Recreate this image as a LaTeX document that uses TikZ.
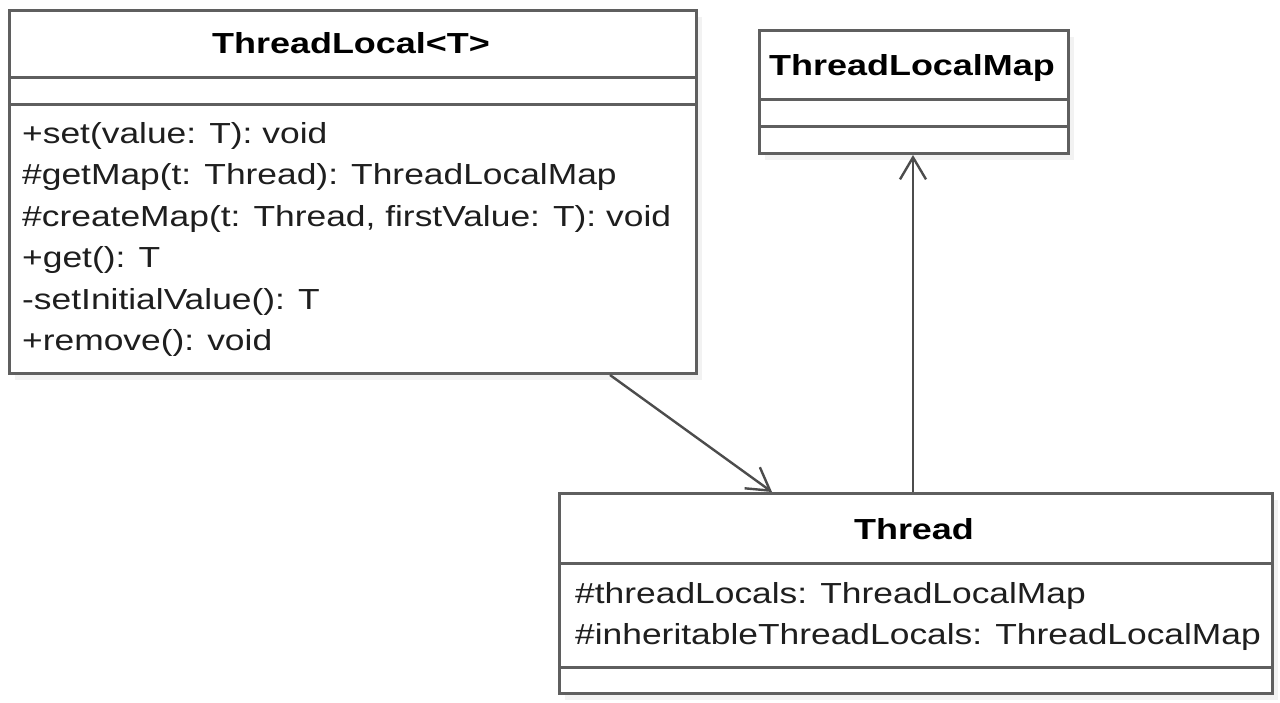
\documentclass[tikz,border=0pt]{standalone}
\usepackage{fontspec}
\setmainfont{Liberation Sans}
\newfontfamily\umlfont[FakeStretch=1.22]{Liberation Sans}
\newfontfamily\umlbold[FakeStretch=1.24]{Liberation Sans}
\usetikzlibrary{arrows.meta,shadows}
\definecolor{linegray}{RGB}{95,95,95}
\definecolor{txtcol}{RGB}{30,30,30}
\begin{document}
\begin{tikzpicture}[x=1pt,y=-1pt,
  umlbox/.style={draw=linegray, line width=3pt, fill=white, inner sep=0pt, anchor=north west,
    drop shadow={opacity=0.10, shadow xshift=5pt, shadow yshift=-6pt}},
  sepline/.style={draw=linegray, line width=3pt},
  txt/.style={anchor=base west, inner sep=0pt, text=txtcol, font=\umlfont\fontsize{29}{34}\selectfont},
  ttl/.style={anchor=base, inner sep=0pt, text=black, font=\umlbold\bfseries\fontsize{29}{34}\selectfont},
  assoc/.style={draw=linegray!80!black, line width=2.4pt, -{Straight Barb[length=22pt,width=26pt,line width=2.4pt]}}]
\useasboundingbox (0,0) rectangle (1280,702);
\fill[white] (0,0) rectangle (1280,702);

% ThreadLocal<T>
\node[umlbox, minimum width=687pt, minimum height=363pt] (tl) at (8,9) {};
\draw[sepline] (tl.west |- 0,77) -- (tl.east |- 0,77);
\draw[sepline] (tl.west |- 0,104) -- (tl.east |- 0,104);
\node[ttl] (tlname) at (351,53) {ThreadLocal<T>};
\node[txt] (m1) at (22,143) {+set(value: T): void};
\node[txt] (m2) at (22,184.5) {\#getMap(t: Thread): ThreadLocalMap};
\node[txt] (m3) at (22,226) {\#createMap(t: Thread, firstValue: T): void};
\node[txt] (m4) at (22,267.5) {+get(): T};
\node[txt] (m5) at (22,309) {-setInitialValue(): T};
\node[txt] (m6) at (22,350.5) {+remove(): void};

% ThreadLocalMap
\node[umlbox, minimum width=309pt, minimum height=123pt] (tlm) at (758,29) {};
\draw[sepline] (tlm.west |- 0,99) -- (tlm.east |- 0,99);
\draw[sepline] (tlm.west |- 0,126) -- (tlm.east |- 0,126);
\node[ttl] (tlmname) at (912,75) {ThreadLocalMap};

% Thread
\node[umlbox, minimum width=713pt, minimum height=200pt] (th) at (558,492) {};
\draw[sepline] (th.west |- 0,563) -- (th.east |- 0,563);
\draw[sepline] (th.west |- 0,667) -- (th.east |- 0,667);
\node[ttl] (thname) at (914,539) {Thread};
\node[txt] (a1) at (575,603) {\#threadLocals: ThreadLocalMap};
\node[txt] (a2) at (575,644.5) {\#inheritableThreadLocals: ThreadLocalMap};

% connectors
\draw[assoc] (tl.south -| 610,0) -- (th.north -| 772,0);
\draw[assoc] (th.north -| 913,0) -- (tlm.south -| 913,0);
\end{tikzpicture}
\end{document}
